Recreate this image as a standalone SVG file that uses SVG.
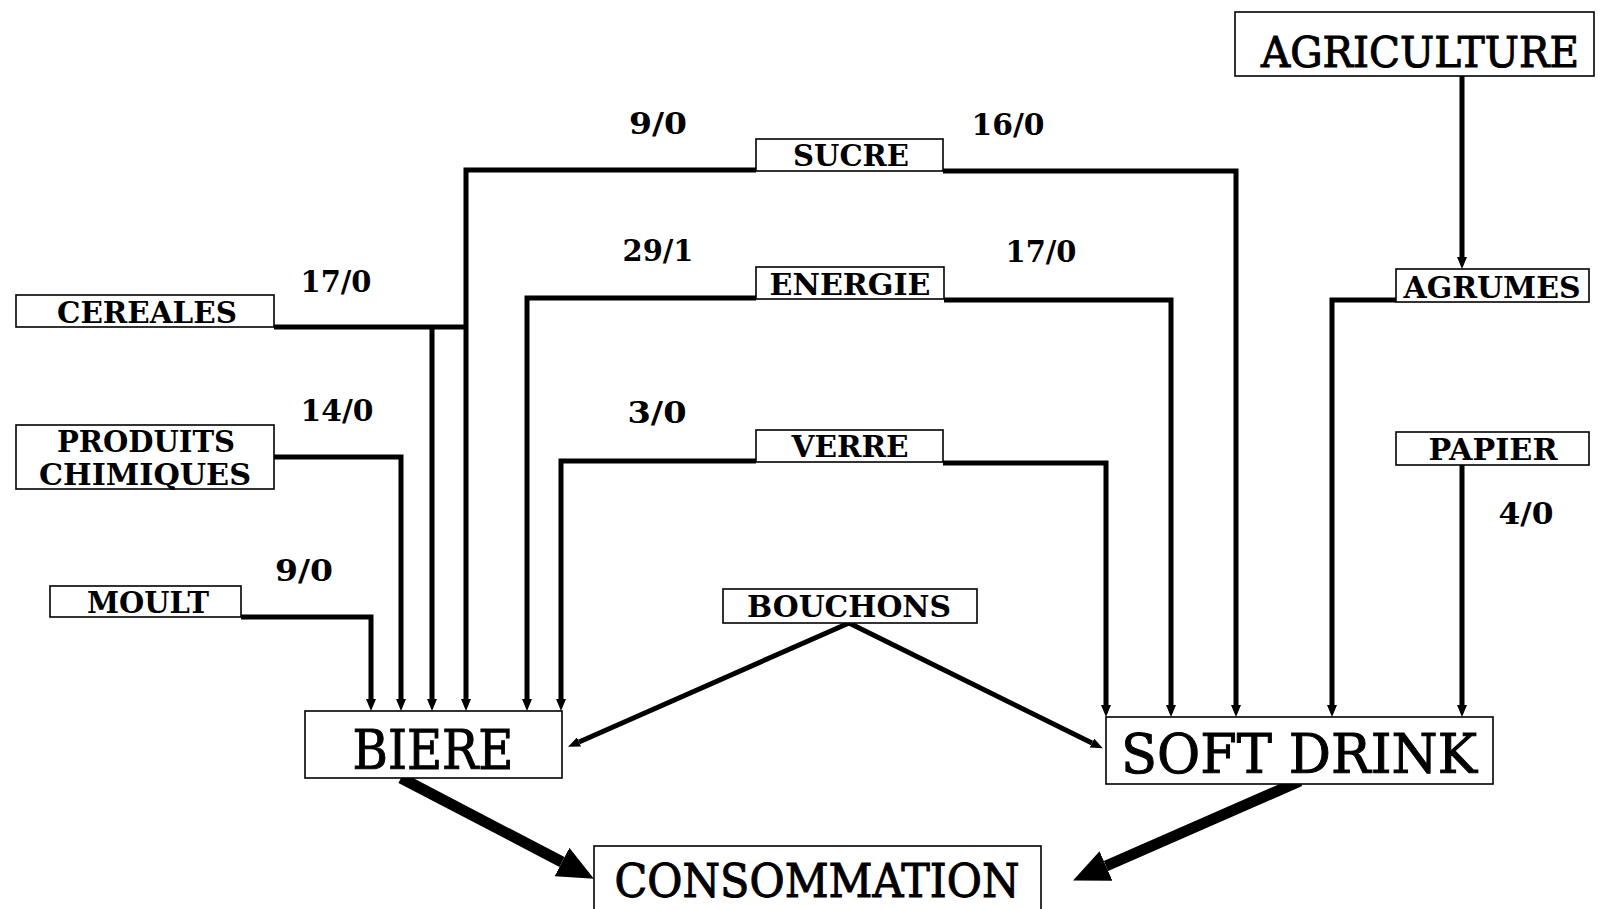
<svg xmlns="http://www.w3.org/2000/svg" width="1612" height="909" viewBox="0 0 1612 909">
<style>
.box{fill:#fff;stroke:#000;stroke-width:1.6}
.ln{fill:none;stroke:#000;stroke-width:5;stroke-linejoin:miter}
.thick{fill:none;stroke:#000;stroke-width:11}
.sm{font-family:"DejaVu Serif","Liberation Serif",serif;font-weight:bold;font-size:29px;text-anchor:middle;fill:#000}
.num{font-family:"DejaVu Serif","Liberation Serif",serif;font-weight:bold;font-size:29px;text-anchor:middle;fill:#000}
.big{font-family:"DejaVu Serif","Liberation Serif",serif;font-size:55px;text-anchor:middle;fill:#000;stroke:#000;stroke-width:1}
</style>
<defs>
<marker id="ah" viewBox="0 0 12 10" refX="0" refY="5" markerWidth="12" markerHeight="10" markerUnits="userSpaceOnUse" orient="auto">
<path d="M0,0 L12,5 L0,10 z" fill="#000"/>
</marker>
<marker id="ahb" viewBox="0 0 36 32" refX="0" refY="16" markerWidth="36" markerHeight="32" markerUnits="userSpaceOnUse" orient="auto">
<path d="M0,0 L36,16 L0,32 z" fill="#000"/>
</marker>
</defs>
<rect width="1612" height="909" fill="#fff"/>

<g id="connectors">
<path class="ln" d="M756,170 H466 V699" marker-end="url(#ah)"/>
<path class="ln" d="M943,171 H1236 V705" marker-end="url(#ah)"/>
<path class="ln" d="M756,298 H527 V699" marker-end="url(#ah)"/>
<path class="ln" d="M944,300 H1171 V705" marker-end="url(#ah)"/>
<path class="ln" d="M756,461 H561 V699" marker-end="url(#ah)"/>
<path class="ln" d="M943,463 H1106 V705" marker-end="url(#ah)"/>
<path class="ln" d="M274,327 H466"/>
<path class="ln" d="M432,327 V699" marker-end="url(#ah)"/>
<path class="ln" d="M274,457 H401 V699" marker-end="url(#ah)"/>
<path class="ln" d="M241,617 H371 V699" marker-end="url(#ah)"/>
<path class="ln" d="M1462,76 V257" marker-end="url(#ah)"/>
<path class="ln" d="M1396,300 H1332 V705" marker-end="url(#ah)"/>
<path class="ln" d="M1462,465 V705" marker-end="url(#ah)"/>
<path class="ln" d="M849,623 L579,742" marker-end="url(#ah)"/>
<path class="ln" d="M849,623 L1092,743" marker-end="url(#ah)"/>
<path class="thick" d="M401,778 L562,862" marker-end="url(#ahb)"/>
<path class="thick" d="M1300,781 L1106,866" marker-end="url(#ahb)"/>
</g>

<g id="agriculture"><rect class="box" x="1235" y="12" width="359" height="64"/><text class="big" x="1420" y="67" style="font-size:42px" textLength="318" lengthAdjust="spacingAndGlyphs">AGRICULTURE</text></g>
<g id="sucre"><rect class="box" x="756" y="139" width="187" height="32"/><text class="sm" x="851" y="166" textLength="116" lengthAdjust="spacingAndGlyphs">SUCRE</text></g>
<g id="energie"><rect class="box" x="756" y="267" width="188" height="32"/><text class="sm" x="850" y="295" textLength="161" lengthAdjust="spacingAndGlyphs">ENERGIE</text></g>
<g id="verre"><rect class="box" x="756" y="430" width="187" height="32"/><text class="sm" x="850" y="457" textLength="117" lengthAdjust="spacingAndGlyphs">VERRE</text></g>
<g id="cereales"><rect class="box" x="16" y="295" width="258" height="32"/><text class="sm" x="147" y="323" textLength="180" lengthAdjust="spacingAndGlyphs">CEREALES</text></g>
<g id="produits-chimiques"><rect class="box" x="16" y="425" width="258" height="64"/><text class="sm" x="146" y="452" textLength="178" lengthAdjust="spacingAndGlyphs">PRODUITS</text><text class="sm" x="145" y="485" textLength="212" lengthAdjust="spacingAndGlyphs">CHIMIQUES</text></g>
<g id="moult"><rect class="box" x="50" y="586" width="191" height="31"/><text class="sm" x="148" y="613" textLength="122" lengthAdjust="spacingAndGlyphs">MOULT</text></g>
<g id="bouchons"><rect class="box" x="723" y="589" width="254" height="34"/><text class="sm" x="849" y="617" textLength="204" lengthAdjust="spacingAndGlyphs">BOUCHONS</text></g>
<g id="agrumes"><rect class="box" x="1396" y="269" width="193" height="33"/><text class="sm" x="1492" y="298" textLength="177" lengthAdjust="spacingAndGlyphs">AGRUMES</text></g>
<g id="papier"><rect class="box" x="1396" y="432" width="193" height="33"/><text class="sm" x="1493" y="460" textLength="129" lengthAdjust="spacingAndGlyphs">PAPIER</text></g>
<g id="biere"><rect class="box" x="305" y="711" width="257" height="67"/><text class="big" x="433" y="769" textLength="161" lengthAdjust="spacingAndGlyphs">BIERE</text></g>
<g id="soft-drink"><rect class="box" x="1106" y="717" width="387" height="67"/><text class="big" x="1299" y="773" textLength="356" lengthAdjust="spacingAndGlyphs">SOFT DRINK</text></g>
<g id="consommation"><rect class="box" x="594" y="846" width="447" height="70"/><text class="big" x="817" y="897" style="font-size:46px" textLength="405" lengthAdjust="spacingAndGlyphs">CONSOMMATION</text></g>

<g id="labels">
<text class="num" x="658" y="134" textLength="58" lengthAdjust="spacingAndGlyphs">9/0</text>
<text class="num" x="1008" y="135" textLength="73" lengthAdjust="spacingAndGlyphs">16/0</text>
<text class="num" x="658" y="261" textLength="71" lengthAdjust="spacingAndGlyphs">29/1</text>
<text class="num" x="1041" y="262" textLength="71" lengthAdjust="spacingAndGlyphs">17/0</text>
<text class="num" x="657" y="423" textLength="59" lengthAdjust="spacingAndGlyphs">3/0</text>
<text class="num" x="336" y="292" textLength="71" lengthAdjust="spacingAndGlyphs">17/0</text>
<text class="num" x="337" y="421" textLength="73" lengthAdjust="spacingAndGlyphs">14/0</text>
<text class="num" x="304" y="581" textLength="58" lengthAdjust="spacingAndGlyphs">9/0</text>
<text class="num" x="1526" y="524" textLength="55" lengthAdjust="spacingAndGlyphs">4/0</text>
</g>
</svg>
